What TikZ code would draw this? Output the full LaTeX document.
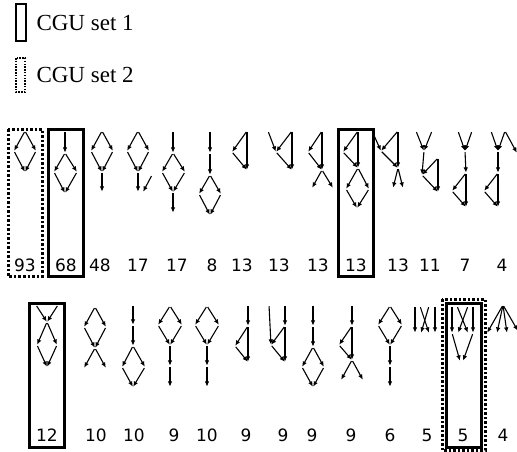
\documentclass[tikz,border=0pt]{standalone}
\usepackage{fontspec}
\setmainfont{Liberation Serif}
\newfontfamily\numfont{DejaVu Sans}
\usetikzlibrary{arrows.meta}
% one motif: named points, then the arrows between them
\newcommand{\motif}[2]{%
  \foreach \n/\x/\y in {#1} \coordinate (\n) at (\x,\y);
  \foreach \a/\b in {#2} \draw[link] (\a) -- (\b);}

\begin{document}
\begin{tikzpicture}[x=1pt, y=-1pt, line width=1.1pt, >={Latex[length=5.2pt,width=4.6pt]},
    link/.style={->, shorten <=1.2pt, shorten >=0.4pt},
    cgu/.style={line width=3pt},
    cgudot/.style={line width=3pt, dash pattern=on 2.5pt off 2pt},
    num/.style={anchor=base, inner sep=0pt, font=\numfont\fontsize{17}{17}\selectfont},
    key/.style={anchor=base west, inner sep=0pt, font=\fontsize{23}{23}\selectfont}]
  \useasboundingbox (0,0) rectangle (517,451);
  % ================================================================ legend
  \draw[line width=2pt] (16,4) rectangle (26,41);
  \draw[line width=1.5pt, dash pattern=on 1.5pt off 1.3pt] (16,58) rectangle (25,92);
  \node[key] (set1) at (36,30) {CGU set 1};
  \node[key] (set2) at (36,82) {CGU set 2};
  % ================================================================ first row
  \draw[cgudot] (8,129) rectangle (42,276);
  \draw[cgu] (48,129) rectangle (83,276);
  \draw[cgu] (338,129) rectangle (373,276);
  \foreach \x/\n [count=\i] in {25/93,66/68,100/48,138/17,177/17,212/8,242/13,279/13,318/13,356/13,398/13,430/11,465/7,502/4}
    \node[num] (ca\i) at (\x,271) {\n};
  \motif{t/25/131,l/14/151,r/36/151,b/25/172}{t/l,t/r,l/b,r/b}
  \motif{a/65/131,t/65/153,l/54/172,r/77/172,b/65/193}{a/t,t/l,t/r,l/b,r/b}
  \motif{t/102/131,l/91/151,r/113/151,m/102/172,b/102/192}{t/l,t/r,l/m,r/m,m/b}
  \motif{t/138/131,l/127/151,r/149/151,m/138/172,b/138/192,x/152/175,y/143/192}{t/l,t/r,l/m,r/m,m/b,x/y}
  \motif{a/173/131,t/173/153,l/162/172,r/185/172,m/173/192,b/173/213}{a/t,t/l,t/r,l/m,r/m,m/b}
  \motif{a/210/131,b/210/153,c/210/175,l/199/194,r/221/194,d/210/215}{a/b,b/c,c/l,c/r,l/d,r/d}
  \motif{x/247/131,y/232/152,z/247/170}{x/y,x/z,y/z}
  \motif{w/268/131,x/292/131,y/276/152,z/292/170}{w/y,x/y,x/z,y/z}
  \motif{x/322/131,y/308/152,z/322/170,l/312/188,r/333/188}{x/y,x/z,y/z,z/l,z/r}
  \motif{x/358/131,y/343/152,z/358/168,l/346/189,r/369/189,b/357/208}{x/y,x/z,y/z,z/l,z/r,l/b,r/b}
  \motif{w/372/131,x/398/131,y/381/151,z/398/168,l/393/188,r/403/188}{w/y,x/y,x/z,y/z,z/l,z/r}
  \motif{w/416/131,x/432/131,y/424/151,z/422/175,a/438/158,b/438/192}{w/y,x/y,y/z,a/z,a/b,z/b}
  \motif{w/458/131,x/472/131,y/465/151,z/466/173,p/452/191,q/466/207}{w/y,x/y,y/z,z/p,z/q,p/q}
  \motif{w/491/131,x/505/131,y/498/151,z/498/173,p/484/191,q/498/207,e/517/153}{w/y,x/y,x/e,y/z,z/p,z/q,p/q}
  % ================================================================ second row
  \draw[cgu] (29,303) rectangle (64,447);
  \draw[cgudot] (442,299) rectangle (485,450);
  \draw[cgu] (446,303) rectangle (481,447);
  \foreach \x/\n [count=\i] in {47/12,96/10,134/10,174/9,207/10,246/9,283/9,312/9,351/9,390/6,427/5,463/5,503/4}
    \node[num] (cb\i) at (\x,441) {\n};
  \motif{w/36/305,x/58/305,m/47/322,l/37/345,r/57/345,b/47/367}{w/m,x/m,m/l,m/r,l/b,r/b}
  \motif{t/95/307,l/84/327,r/106/327,m/95/348,p/84/368,q/106/368}{t/l,t/r,l/m,r/m,m/p,m/q}
  \motif{a/133/305,b/133/325,c/133/346,l/122/367,r/145/367,d/133/387}{a/b,b/c,c/l,c/r,l/d,r/d}
  \motif{t/170/306,l/158/325,r/182/325,m/170/345,b/170/366,c/170/387}{t/l,t/r,l/m,r/m,m/b,b/c}
  \motif{t/207/306,l/195/325,r/219/325,m/207/345,b/207/366,c/207/387}{t/l,t/r,l/m,r/m,m/b,b/c}
  \motif{a/248/305,x/248/326,y/235/346,z/248/362}{a/x,x/y,x/z,y/z}
  \motif{w/269/305,a/285/305,x/285/326,y/271/345,z/285/362}{w/y,a/x,x/y,x/z,y/z}
  \motif{a/313/305,b/313/326,c/313/347,l/302/367,r/324/367,d/313/387}{a/b,b/c,c/l,c/r,l/d,r/d}
  \motif{a/352/305,x/352/326,y/339/345,z/352/360,l/341/380,r/363/380}{a/x,x/y,x/z,y/z,z/l,z/r}
  \motif{t/390/306,l/378/325,r/402/325,m/390/345,b/390/366,c/390/387}{t/l,t/r,l/m,r/m,m/b,b/c}
  \motif{a/415/306,b/420/306,c/429/306,d/435/306,e/415/333,f/421/333,g/429/333,h/435/333}{a/e,b/g,c/f,d/h}
  \motif{a/452/306,b/457/306,c/468/306,d/473/306,e/452/333,f/458/333,g/468/333,h/473/333,k/460/361,m/463/361}{a/e,b/g,c/f,d/h,e/k,h/m}
  \motif{t/503/305,p/487/333,q/497/333,s/507/333,u/518/331}{t/p,t/q,t/s,t/u}
\end{tikzpicture}
\end{document}
